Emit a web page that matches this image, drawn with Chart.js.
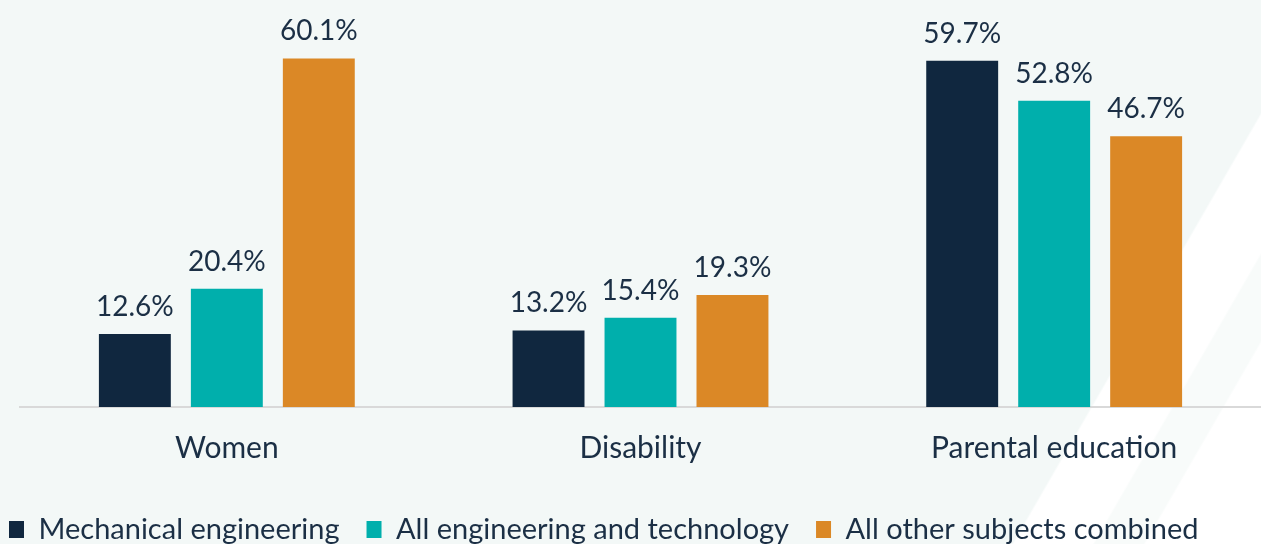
<!DOCTYPE html>
<html>
<head>
<meta charset="utf-8">
<script src="https://cdn.jsdelivr.net/npm/chart.js@4.4.1/dist/chart.umd.min.js"></script>
<style>
  html, body { margin: 0; padding: 0; }
  body {
    width: 1261px; height: 544px; overflow: hidden;
    background: linear-gradient(120deg,
      #f3f8f7 0px, #f3f8f7 1148px,
      #ffffff 1150px, #ffffff 1218px,
      #f8fbfa 1220px, #f8fbfa 1262px,
      #ffffff 1264px, #ffffff 1364px);
  }
  #wrap { position: relative; width: 1261px; height: 544px; }
</style>
</head>
<body>
<div id="wrap"><canvas id="bar-chart"></canvas></div>
<script>
var categories = ["Women", "Disability", "Parental education"];
var series_names = ["Mechanical engineering", "All engineering and technology", "All other subjects combined"];
var mech_values = [12.6, 13.2, 59.7];
var eng_values = [20.4, 15.4, 52.8];
var other_values = [60.1, 19.3, 46.7];
var bar_colours = ["#10273f", "#00afac", "#db8826"];
var text_colour = "#1b2f45";
var font_family = "Lato, 'Open Sans', sans-serif";

// value labels over each bar
var valueLabels = {
    id: 'valueLabels',
    afterDatasetsDraw: function (chart)
    {
        var ctx = chart.ctx;
        ctx.save();
        ctx.font = "28px " + font_family;
        ctx.fillStyle = text_colour;
        ctx.textAlign = 'center';
        ctx.textBaseline = 'alphabetic';
        chart.data.datasets.forEach(function (ds, i)
        {
            var meta = chart.getDatasetMeta(i);
            meta.data.forEach(function (bar, j)
            {
                ctx.fillText(ds.data[j].toFixed(1) + '%', bar.x, bar.y - 18);
            });
        });
        ctx.restore();
    }
};

// move the legend to where the reference has it
var legendPlace = {
    id: 'legendPlace',
    afterLayout: function (chart)
    {
        chart.legend.left = -18;
        chart.legend.top = 488;
    }
};

var m_chart = new Chart(document.getElementById("bar-chart"), {
    type: 'bar',
    data: {
        labels: categories,
        datasets: [
            { label: series_names[0], data: mech_values, backgroundColor: bar_colours[0] },
            { label: series_names[1], data: eng_values, backgroundColor: bar_colours[1] },
            { label: series_names[2], data: other_values, backgroundColor: bar_colours[2] }
        ]
    },
    options: {
        responsive: true,
        maintainAspectRatio: false,
        animation: false,
        layout: { padding: { top: 1, left: 0, right: -2, bottom: -11 } },
        datasets: { bar: { categoryPercentage: 0.667, barPercentage: 0.782 } },
        scales: {
            x: {
                grid: { display: false, drawTicks: false },
                border: { display: true, color: '#d9d9d9', width: 2 },
                ticks: { color: text_colour, font: { family: font_family, size: 30 }, padding: 23 }
            },
            y: {
                min: 0, max: 70,
                ticks: { display: false },
                grid: { display: false, drawTicks: false },
                border: { display: false },
                afterFit: function (scale) { scale.width = 20; }
            }
        },
        plugins: {
            legend: {
                position: 'bottom',
                align: 'start',
                labels: {
                    boxWidth: 15, boxHeight: 17, padding: 27,
                    color: text_colour,
                    font: { family: font_family, size: 29 }
                }
            },
            tooltip: { enabled: false }
        }
    },
    plugins: [valueLabels, legendPlace]
});
</script>
</body>
</html>
